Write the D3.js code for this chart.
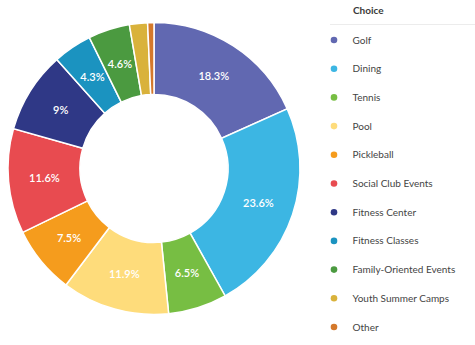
<!DOCTYPE html>
<html>
<head>
<meta charset="utf-8">
<script src="https://cdn.jsdelivr.net/npm/d3@7"></script>
<style>
  html, body { margin: 0; padding: 0; background: #fff; }
  svg { display: block; font-family: Lato, "Open Sans", sans-serif; }
</style>
</head>
<body>
<svg id="chart" width="475" height="345"></svg>
<script>
const categories = ["Golf", "Dining", "Tennis", "Pool", "Pickleball", "Social Club Events",
  "Fitness Center", "Fitness Classes", "Family-Oriented Events", "Youth Summer Camps", "Other"];
const values = [18.3, 23.6, 6.5, 11.9, 7.5, 11.6, 9, 4.3, 4.6, 2.0, 0.7];
const showLabel = [true, true, true, true, true, true, true, true, true, false, false];
const colors = ["#6168b1", "#3cb6e3", "#77be43", "#fedc7b", "#f59c1d", "#e84b50",
  "#2f3886", "#1b93c0", "#4b9a40", "#d9b23b", "#d4782b"];
const legendTitle = "Choice";

const svg = d3.select("#chart");
const cx = 154, cy = 168.5, outerR = 146, innerR = 74;

const pie = d3.pie().sort(null).value(d => d.value);
const arcs = pie(categories.map((c, i) => ({ name: c, value: values[i], i })));
const arc = d3.arc().innerRadius(innerR).outerRadius(outerR);
const labelArc = d3.arc().innerRadius((innerR + outerR) / 2).outerRadius((innerR + outerR) / 2);

const g = svg.append("g").attr("transform", `translate(${cx},${cy})`);
g.selectAll("path").data(arcs).join("path")
  .attr("d", arc)
  .attr("fill", d => colors[d.data.i])
  .attr("stroke", "#fff")
  .attr("stroke-width", 1.5);

g.selectAll("text").data(arcs.filter(d => showLabel[d.data.i])).join("text")
  .attr("transform", d => `translate(${labelArc.centroid(d)})`)
  .attr("text-anchor", "middle")
  .attr("dy", "0.35em")
  .attr("fill", "#fff")
  .attr("font-size", 11)
  .attr("font-weight", 600)
  .text(d => d.data.value + "%");

// Legend
const lg = svg.append("g");
lg.append("text").attr("x", 353).attr("y", 14).attr("font-size", 10).attr("font-weight", 700)
  .attr("fill", "#3a3a3a").text(legendTitle);
lg.append("line").attr("x1", 330).attr("x2", 475).attr("y1", 24.5).attr("y2", 24.5)
  .attr("stroke", "#ececec").attr("stroke-width", 1);

const ly = d3.scalePoint().domain(categories).range([40, 327]);
const items = lg.selectAll("g.item").data(categories).join("g").attr("class", "item")
  .attr("transform", d => `translate(0,${ly(d)})`);
items.append("circle").attr("cx", 334).attr("cy", 0).attr("r", 3.3)
  .attr("fill", (d, i) => colors[i]);
items.append("text").attr("x", 352.5).attr("y", 0).attr("dy", "0.35em")
  .attr("font-size", 10).attr("fill", "#444").text(d => d);
</script>
</body>
</html>
